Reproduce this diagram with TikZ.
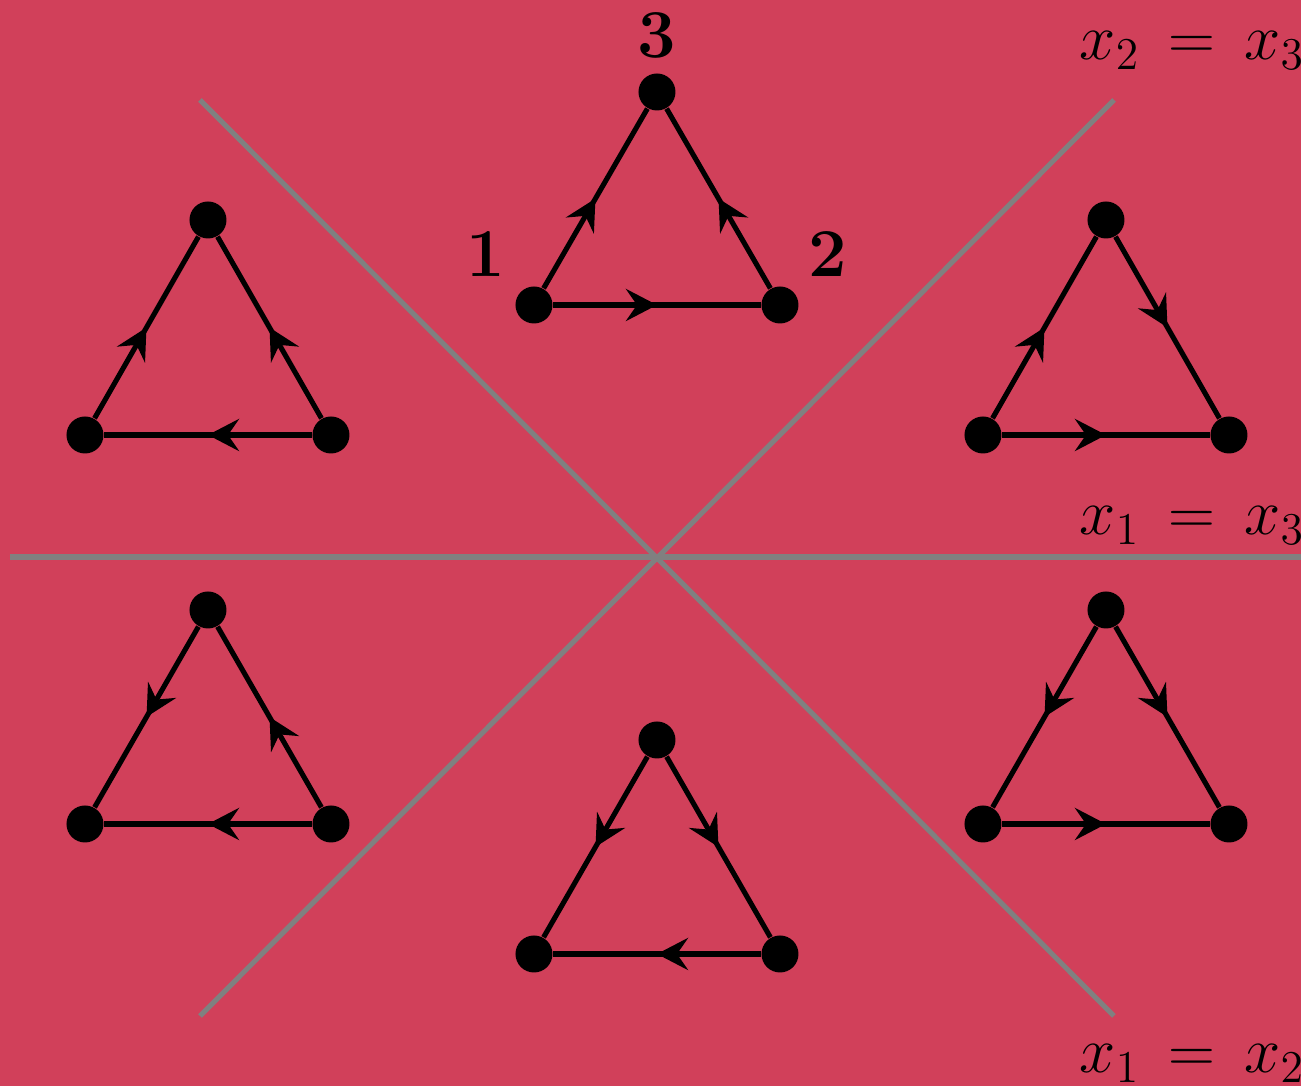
\documentclass[tikz,border=0pt]{standalone}
\usepackage{fix-cm}
\usepackage{amsmath}
\usetikzlibrary{arrows.meta,decorations.markings}
\definecolor{rosebg}{RGB}{209,64,90}

\begin{document}
\begin{tikzpicture}[>=Stealth,
  vert/.style={circle, fill=black, minimum size=0.37cm, inner sep=0pt},
  edge/.style={line width=1.45pt, postaction={decorate},
    decoration={markings, mark=at position 0.5 with {\arrow{Stealth[length=3.1mm,width=3.2mm,inset=1.1mm]}}}},
  wall/.style={line width=1.45pt, gray},
  num/.style={font=\fontsize{19.5}{23}\selectfont\bfseries},
  eqn/.style={font=\fontsize{18.5}{22}\selectfont, anchor=base west, inner sep=0pt}]
  \fill[rosebg] (-6.57,-5.29) rectangle (6.44,5.57);
  \useasboundingbox (-6.57,-5.29) rectangle (6.44,5.57);
  % walls between the orderings
  \coordinate (o) at (0,0);
  \coordinate (nw) at (-4.57,4.57);
  \coordinate (se) at (4.57,-4.59);
  \coordinate (ne) at (4.57,4.57);
  \coordinate (sw) at (-4.57,-4.59);
  \coordinate (w) at (-6.47,0);
  \coordinate (e) at (6.6,0);
  \draw[wall] (nw) -- (se);
  \draw[wall] (ne) -- (sw);
  \draw[wall] (w) -- (e);
  \node[eqn] (l23) at (4.22,4.97) {$x_2 \,=\, x_3$};
  \node[eqn] (l13) at (4.22,0.22) {$x_1 \,=\, x_3$};
  \node[eqn] (l12) at (4.22,-5.16) {$x_1 \,=\, x_2$};
  % x1 < x2 < x3
  \node[vert, label={[num, label distance=0.04cm]135:1}] (a1) at (-1.23,2.52) {};
  \node[vert, label={[num, label distance=0.04cm]45:2}] (a2) at (1.23,2.52) {};
  \node[vert, label={[num, label distance=0.02cm]above:3}] (a3) at (0,4.65) {};
  \draw[edge] (a1) -- (a2);
  \draw[edge] (a1) -- (a3);
  \draw[edge] (a2) -- (a3);
  % x2 < x1 < x3
  \node[vert] (b1) at (-5.72,1.22) {};
  \node[vert] (b2) at (-3.26,1.22) {};
  \node[vert] (b3) at (-4.49,3.37) {};
  \draw[edge] (b2) -- (b1);
  \draw[edge] (b1) -- (b3);
  \draw[edge] (b2) -- (b3);
  % x1 < x3 < x2
  \node[vert] (c1) at (3.26,1.22) {};
  \node[vert] (c2) at (5.72,1.22) {};
  \node[vert] (c3) at (4.49,3.37) {};
  \draw[edge] (c1) -- (c2);
  \draw[edge] (c1) -- (c3);
  \draw[edge] (c3) -- (c2);
  % x2 < x3 < x1
  \node[vert] (d1) at (-5.72,-2.67) {};
  \node[vert] (d2) at (-3.26,-2.67) {};
  \node[vert] (d3) at (-4.49,-0.53) {};
  \draw[edge] (d2) -- (d1);
  \draw[edge] (d3) -- (d1);
  \draw[edge] (d2) -- (d3);
  % x3 < x1 < x2
  \node[vert] (f1) at (3.26,-2.67) {};
  \node[vert] (f2) at (5.72,-2.67) {};
  \node[vert] (f3) at (4.49,-0.53) {};
  \draw[edge] (f1) -- (f2);
  \draw[edge] (f3) -- (f1);
  \draw[edge] (f3) -- (f2);
  % x3 < x2 < x1
  \node[vert] (g1) at (-1.23,-3.97) {};
  \node[vert] (g2) at (1.23,-3.97) {};
  \node[vert] (g3) at (0,-1.83) {};
  \draw[edge] (g2) -- (g1);
  \draw[edge] (g3) -- (g1);
  \draw[edge] (g3) -- (g2);
\end{tikzpicture}
\end{document}
